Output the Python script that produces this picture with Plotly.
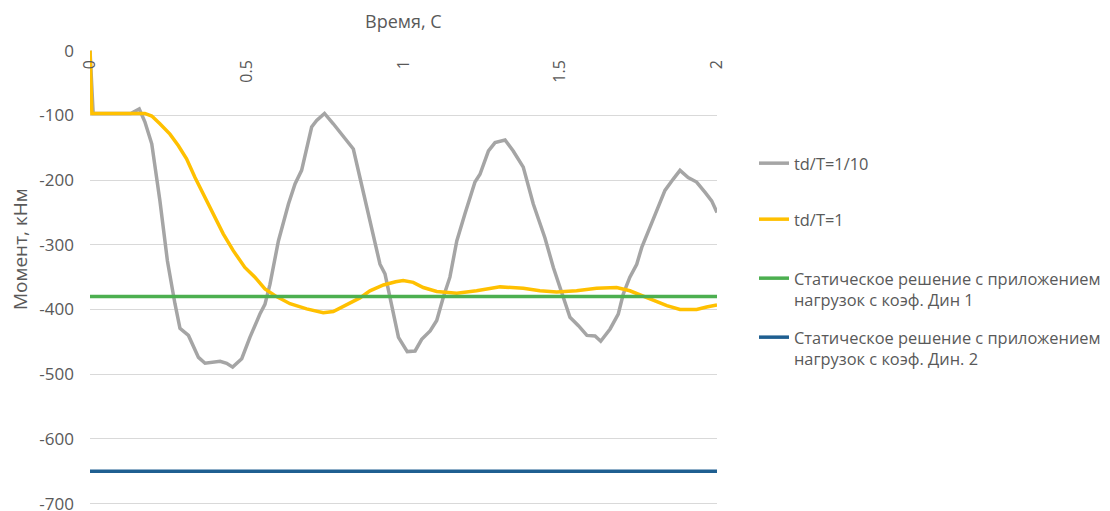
import plotly.graph_objects as go

# ---- data ----
t_fast = [0, 0.01, 0.13, 0.157, 0.175, 0.197, 0.223, 0.247, 0.271, 0.287, 0.314, 0.346, 0.367,
          0.415, 0.436, 0.455, 0.484, 0.510, 0.542, 0.558, 0.574, 0.601, 0.633, 0.654,
          0.675, 0.707, 0.723, 0.748, 0.776, 0.819, 0.840, 0.861, 0.883, 0.904, 0.925,
          0.941, 0.962, 0.984, 1.012, 1.037, 1.058, 1.085, 1.106, 1.127, 1.148, 1.170,
          1.196, 1.228, 1.244, 1.271, 1.292, 1.324, 1.350, 1.382, 1.414, 1.451, 1.478,
          1.510, 1.531, 1.558, 1.585, 1.611, 1.629, 1.659, 1.685, 1.701, 1.722, 1.744,
          1.760, 1.786, 1.808, 1.834, 1.861, 1.882, 1.908, 1.935, 1.962, 1.983, 2.0]
m_fast = [0, -97, -97, -90, -110, -144, -232, -325, -391, -429, -440, -474, -483,
          -480, -483, -489, -476, -443, -407, -392, -361, -294, -237, -206,
          -185, -118, -108, -97, -113, -139, -152, -196, -242, -289, -330,
          -345, -392, -443, -465, -464, -446, -433, -417, -381, -350, -294,
          -252, -203, -191, -155, -142, -138, -155, -180, -237, -289, -335,
          -381, -412, -425, -440, -441, -449, -430, -407, -376, -350, -330,
          -304, -273, -247, -216, -198, -185, -196, -203, -219, -232, -250]

t_slow = [0, 0.006, 0.175, 0.197, 0.223, 0.255, 0.282, 0.308, 0.335, 0.367, 0.399, 0.425,
          0.457, 0.494, 0.526, 0.558, 0.595, 0.638, 0.691, 0.744, 0.776, 0.819, 0.861,
          0.893, 0.936, 0.975, 0.999, 1.031, 1.063, 1.106, 1.170, 1.233, 1.308, 1.382,
          1.435, 1.489, 1.552, 1.616, 1.680, 1.722, 1.786, 1.840, 1.882, 1.935, 1.967, 2.0]
m_slow = [0, -97, -97, -101, -113, -129, -147, -167, -196, -227, -258, -283,
          -309, -335, -350, -368, -380, -391, -399, -405, -403, -392, -382,
          -371, -362, -357, -355, -358, -366, -372, -375, -371, -365, -367,
          -371, -373, -371, -367, -366, -371, -384, -394, -400, -400, -396, -393]

t_range = [0, 2]
m_static1 = [-380, -380]
m_static2 = [-650, -650]

names = ["td/T=1/10", "td/T=1",
         "Статическое решение с приложением<br>нагрузок с коэф. Дин 1",
         "Статическое решение с приложением<br>нагрузок с коэф. Дин. 2"]
colors = ["#a5a5a5", "#ffc000", "#4caf50", "#1f5f91"]

x_ticks = [0, 0.5, 1, 1.5, 2]
x_tick_labels = ["0", "0.5", "1", "1.5", "2"]
y_ticks = [0, -100, -200, -300, -400, -500, -600, -700]
y_tick_labels = ["0", "-100", "-200", "-300", "-400", "-500", "-600", "-700"]

FONT = "Open Sans"
TXT = "#595959"
OFF = 8                                # page body offset of the figure
L, T, PW, PH = 90 - OFF, 50 - OFF, 627, 455   # plot area in figure px
W, H = 1110, 511

fig = go.Figure()
series = [(t_fast, m_fast), (t_slow, m_slow), (t_range, m_static1), (t_range, m_static2)]
legend_ids = ["legend", "legend2", "legend3", "legend4"]
legend_line_y = [160, 216, 275, 334]   # px centre of first text line
for (xs, ys), nm, col, lg in zip(series, names, colors, legend_ids):
    fig.add_trace(go.Scatter(x=xs, y=ys, mode="lines", name=nm,
                             line=dict(color=col, width=3.5), legend=lg))

legend_common = dict(xref="container", yref="container", xanchor="left", yanchor="top",
                     valign="top", bgcolor="rgba(0,0,0,0)",
                     font=dict(family=FONT, size=16.4, color=TXT))
legends = {}
for lg, yc in zip(legend_ids, legend_line_y):
    legends[lg] = dict(legend_common, x=746 / W, y=1 - (yc - 22) / H)

fig.update_layout(
    width=W, height=H,
    margin=dict(l=L, r=W - L - PW, t=T, b=H - T - PH),
    paper_bgcolor="white", plot_bgcolor="white",
    font=dict(family=FONT, size=16, color=TXT),
    showlegend=True,
    **legends,
    xaxis=dict(range=[0, 2], side="bottom", anchor="free", position=1,
               tickmode="array", tickvals=x_ticks, ticktext=x_tick_labels,
               tickangle=-90, ticklabelstandoff=6, showgrid=False, zeroline=False,
               showline=False, ticks="", automargin=False,
               tickfont=dict(size=16, color=TXT)),
    yaxis=dict(range=[-702, 1], tickmode="array", tickvals=y_ticks, ticktext=y_tick_labels,
               showgrid=True, gridcolor="#d9d9d9", gridwidth=1, zeroline=False,
               showline=False, ticks="", ticklabelstandoff=15, automargin=False,
               tickfont=dict(size=17, color=TXT)),
    annotations=[
        dict(text="Время, С", xref="paper", yref="paper", x=0.5, y=1 + 29 / PH,
             showarrow=False, font=dict(size=18, color=TXT), xanchor="center", yanchor="middle"),
        dict(text="Момент, кНм", xref="paper", yref="paper", x=(20 - OFF - L) / PW,
             y=(T + PH - (249 - OFF)) / PH, showarrow=False, textangle=-90,
             font=dict(size=19, color=TXT), xanchor="center", yanchor="middle"),
    ],
)

fig.write_html("out.html")
